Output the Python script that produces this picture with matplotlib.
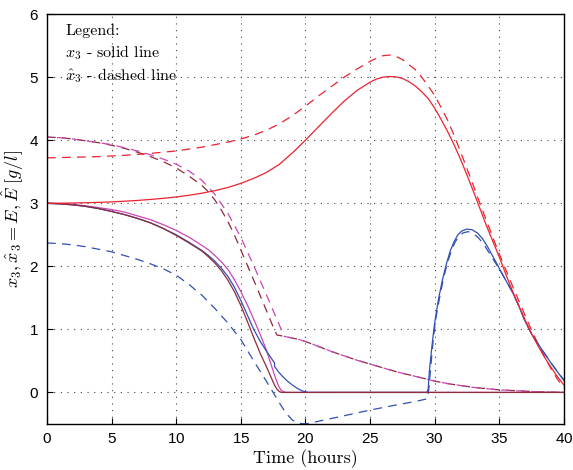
import matplotlib
matplotlib.use("Agg")
import matplotlib.pyplot as plt

# values (time in hours, concentration in g/l)
red_x = [0, 1, 2, 3, 4, 5, 6, 7, 8, 9, 10, 11, 12, 13, 14, 15, 16, 17, 18, 19, 20, 21, 22,
         23, 24, 25, 25.5, 26, 26.5, 27, 27.5, 28, 28.5, 29, 29.5, 30, 30.5, 31, 31.5, 32,
         32.5, 33, 33.5, 34, 34.5, 35, 35.5, 36, 36.5, 37, 37.5, 38, 38.5, 39, 39.5, 40]
red_y = [3.000, 3.001, 3.004, 3.008, 3.014, 3.022, 3.032, 3.045, 3.060, 3.078, 3.100, 3.127,
         3.160, 3.200, 3.250, 3.315, 3.395, 3.49, 3.62, 3.80, 4.00, 4.21, 4.42, 4.62, 4.79,
         4.92, 4.97, 5.00, 5.01, 5.005, 4.98, 4.93, 4.86, 4.77, 4.66, 4.51, 4.33, 4.14, 3.93,
         3.70, 3.45, 3.19, 2.92, 2.65, 2.40, 2.15, 1.88, 1.62, 1.38, 1.15, 0.93, 0.74, 0.56,
         0.40, 0.25, 0.12]

red_hat_x = [0, 2, 4, 6, 8, 10, 11, 12, 13, 14, 15, 16, 17, 18, 19, 20, 21, 22, 23, 24, 25,
             25.5, 26, 26.5, 27, 27.5, 28, 28.5, 29, 29.5, 30, 30.5, 31, 31.5, 32, 32.5, 33,
             33.5, 34, 34.5, 35, 35.5, 36, 36.5, 37, 37.5, 38, 38.5, 39, 39.5, 40]
red_hat_y = [3.72, 3.73, 3.74, 3.76, 3.79, 3.83, 3.86, 3.89, 3.93, 3.97, 4.02, 4.08, 4.16,
             4.26, 4.39, 4.54, 4.70, 4.85, 5.00, 5.13, 5.25, 5.30, 5.34, 5.35, 5.33, 5.28,
             5.20, 5.12, 5.00, 4.86, 4.71, 4.52, 4.32, 4.08, 3.82, 3.55, 3.28, 3.00, 2.73,
             2.46, 2.20, 1.95, 1.70, 1.46, 1.22, 0.99, 0.77, 0.57, 0.38, 0.21, 0.07]

mag_x = [0, 1, 2, 3, 4, 5, 6, 7, 8, 9, 10, 11, 12, 12.5, 13, 13.5, 14, 14.5, 15, 15.5, 16,
         16.5, 17, 17.3, 17.6, 17.9, 18.1, 18.3, 18.6, 40]
mag_y = [3.000, 2.995, 2.98, 2.96, 2.93, 2.90, 2.86, 2.80, 2.74, 2.66, 2.57, 2.46, 2.33, 2.26,
         2.17, 2.07, 1.95, 1.79, 1.60, 1.39, 1.16, 0.92, 0.66, 0.47, 0.28, 0.11, 0.04, 0.01,
         0.0, 0.0]

brown_x = [0, 1, 2, 3, 4, 5, 6, 7, 8, 9, 10, 11, 12, 12.5, 13, 13.5, 14, 14.5, 15, 15.5, 16,
           16.5, 17, 17.3, 17.6, 17.8, 18.0, 18.2, 40]
brown_y = [3.00, 2.99, 2.975, 2.95, 2.915, 2.87, 2.82, 2.76, 2.69, 2.60, 2.49, 2.37, 2.24,
           2.15, 2.05, 1.93, 1.78, 1.60, 1.38, 1.13, 0.87, 0.62, 0.40, 0.26, 0.12, 0.05, 0.01,
           0.0, 0.0]

blue_x = [0, 1, 2, 3, 4, 5, 6, 7, 8, 9, 10, 11, 12, 12.5, 13, 13.5, 14, 14.5, 15, 15.5, 16,
          16.5, 17, 17.3, 17.6, 17.62, 17.9, 18.2, 18.55, 19, 19.4, 19.8, 20.2, 29.4, 29.5,
          29.6, 29.8, 30.0, 30.3, 30.6, 30.9, 31.2, 31.5, 31.8, 32.1, 32.5, 32.9, 33.3, 33.7,
          34.1, 34.5, 35, 35.5, 36, 36.5, 37, 37.5, 38, 38.5, 39, 39.5, 40]
blue_y = [3.00, 2.99, 2.975, 2.95, 2.915, 2.87, 2.82, 2.76, 2.69, 2.60, 2.50, 2.38, 2.25,
          2.17, 2.08, 1.97, 1.84, 1.67, 1.46, 1.23, 1.00, 0.81, 0.65, 0.56, 0.47, 0.41, 0.33,
          0.26, 0.19, 0.115, 0.06, 0.02, 0.0, 0.0, 0.05, 0.35, 0.75, 1.10, 1.48, 1.78, 2.03,
          2.24, 2.39, 2.50, 2.56, 2.59, 2.58, 2.53, 2.44, 2.31, 2.16, 1.97, 1.78, 1.60, 1.38,
          1.13, 0.93, 0.77, 0.62, 0.47, 0.33, 0.19]

blue_hat_x = [0, 1, 2, 3, 4, 5, 6, 7, 8, 9, 10, 11, 12, 13, 14, 15, 16, 17, 17.5, 18, 18.5,
              19, 19.5, 20, 20.5, 21.4, 23, 25, 27, 28.6, 29.45, 29.55, 29.7, 29.9, 30.1,
              30.4, 30.7, 31.0, 31.3, 31.6, 31.9, 32.2, 32.6, 33.0, 33.4, 33.8, 34.2, 34.6,
              35, 35.5, 36, 36.5, 37, 37.5, 38, 38.5, 39, 39.5, 40]
blue_hat_y = [2.37, 2.36, 2.34, 2.31, 2.27, 2.23, 2.17, 2.11, 2.04, 1.96, 1.86, 1.71, 1.54,
              1.33, 1.10, 0.84, 0.50, 0.17, 0.0, -0.17, -0.33, -0.44, -0.49, -0.50, -0.48,
              -0.44, -0.37, -0.28, -0.20, -0.14, -0.10, 0.05, 0.40, 0.85, 1.18, 1.52, 1.82,
              2.06, 2.25, 2.39, 2.48, 2.53, 2.55, 2.52, 2.45, 2.35, 2.22, 2.09, 1.96, 1.78,
              1.60, 1.38, 1.13, 0.93, 0.77, 0.62, 0.47, 0.33, 0.20]

brown_hat_x = [0, 1, 2, 3, 4, 5, 6, 7, 8, 9, 10, 11, 12, 12.5, 13, 13.5, 14, 14.5, 15, 16,
               17, 17.5, 17.8, 18.35, 18.8, 19.5, 20.1, 21, 22, 23, 24, 25, 26, 27, 28, 29,
               30, 31, 32, 33, 34, 35, 36, 37, 38, 40]
brown_hat_y = [4.05, 4.04, 4.02, 3.99, 3.96, 3.92, 3.87, 3.81, 3.74, 3.66, 3.56, 3.43, 3.28,
               3.18, 3.05, 2.89, 2.71, 2.50, 2.26, 1.78, 1.29, 1.04, 0.91, 0.89, 0.87, 0.84,
               0.80, 0.73, 0.65, 0.58, 0.51, 0.45, 0.39, 0.33, 0.28, 0.23, 0.18, 0.14, 0.11,
               0.08, 0.06, 0.04, 0.03, 0.02, 0.01, 0.0]

mag_hat_x = [0, 1, 2, 3, 4, 5, 6, 7, 8, 9, 10, 11, 12, 13, 14, 15, 16, 17, 18, 18.35, 18.8,
             19.5, 20.1, 21, 22, 23, 24, 25, 26, 27, 28, 29, 30, 31, 32, 33, 34, 35, 36, 37,
             38, 40]
mag_hat_y = [4.05, 4.04, 4.02, 3.99, 3.96, 3.93, 3.88, 3.83, 3.77, 3.70, 3.62, 3.51, 3.36,
             3.14, 2.84, 2.46, 2.01, 1.54, 1.06, 0.89, 0.87, 0.84, 0.80, 0.73, 0.65, 0.58,
             0.51, 0.45, 0.39, 0.33, 0.28, 0.23, 0.18, 0.14, 0.11, 0.08, 0.06, 0.04, 0.03,
             0.02, 0.01, 0.0]

RED = "#ec2230"
MAG = "#c846b8"
BROWN = "#8c2c3c"
BLUE = "#3050b4"
DASH = (0, (7, 5))

plt.rcParams["mathtext.fontset"] = "cm"
plt.rcParams["axes.formatter.use_mathtext"] = True

fig = plt.figure(figsize=(5.73, 4.70), dpi=100)
ax = fig.add_axes([0.082, 0.098, 0.902, 0.872])

lw = 0.9
ax.plot(brown_hat_x, brown_hat_y, color=BROWN, lw=lw, ls=DASH)
ax.plot(mag_hat_x, mag_hat_y, color=MAG, lw=lw, ls=(4, (7, 5)))
ax.plot(blue_hat_x, blue_hat_y, color=BLUE, lw=lw, ls=DASH)
ax.plot(red_hat_x, red_hat_y, color=RED, lw=lw, ls=DASH)
ax.plot(mag_x, mag_y, color=MAG, lw=lw)
ax.plot(blue_x, blue_y, color=BLUE, lw=lw)
ax.plot(brown_x, brown_y, color=BROWN, lw=lw)
ax.plot(red_x, red_y, color=RED, lw=lw)

ax.set_xlim(0, 40)
ax.set_ylim(-0.5, 6)
ax.set_xticks(range(0, 41, 5))
ax.set_yticks(range(0, 7))
ax.grid(True, color="0.25", lw=0.8, ls=(0, (1, 5)))
ax.tick_params(direction="in", length=4, width=0.8, labelsize=11, pad=6)
for lab in ax.get_xticklabels() + ax.get_yticklabels():
    lab.set_fontfamily("Liberation Sans")
for sp in ax.spines.values():
    sp.set_linewidth(1.0)

ax.set_xlabel("Time (hours)", fontfamily="cmr10", fontsize=13, labelpad=2)
ax.set_ylabel(r"$x_3, \hat{x}_3 = E, \hat{E}\ [g/l]$", fontsize=13, labelpad=2)

txt = dict(transform=ax.transAxes, ha="left", va="center", fontsize=11.5, fontfamily="cmr10")
ax.text(0.035, 0.958, "Legend:", **txt)
ax.text(0.035, 0.905, r"$x_3$ - solid line", **txt)
ax.text(0.035, 0.851, r"$\hat{x}_3$ - dashed line", **txt)

fig.savefig("out.png", dpi=100)
